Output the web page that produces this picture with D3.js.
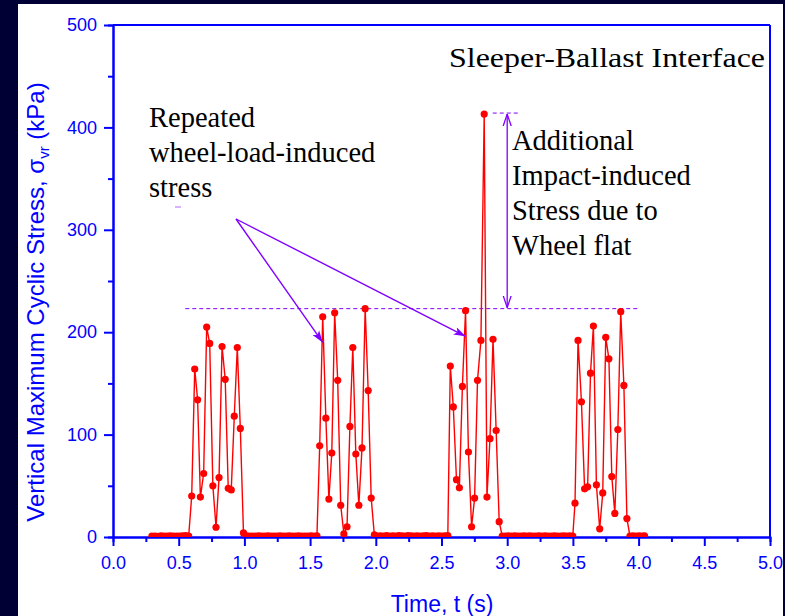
<!DOCTYPE html>
<html>
<head>
<meta charset="utf-8">
<script src="https://cdn.jsdelivr.net/npm/d3@7"></script>
<style>
  html, body { margin: 0; padding: 0; background: #000035; }
  svg { display: block; }
</style>
</head>
<body>
<svg id="chart" width="785" height="616"></svg>
<script>
// Measured vertical maximum cyclic stress at the sleeper-ballast interface
const time = [
  0.296, 0.320, 0.343, 0.366, 0.389, 0.413, 0.436, 0.459, 0.483, 0.506, 0.529, 0.553, 0.576,
  0.599, 0.622, 0.644, 0.665, 0.690, 0.713, 0.736, 0.760, 0.784, 0.807, 0.830, 0.854, 0.877, 0.900, 0.923, 0.946, 0.969, 0.993,
  1.016, 1.039, 1.063, 1.086, 1.109, 1.133, 1.156, 1.179, 1.203, 1.226, 1.249, 1.272, 1.296, 1.319, 1.342, 1.366, 1.389, 1.412, 1.436, 1.459, 1.482, 1.506, 1.529, 1.552,
  1.573, 1.596, 1.620, 1.643, 1.665, 1.687, 1.710, 1.733, 1.757, 1.781, 1.803, 1.825, 1.848, 1.871, 1.895, 1.919, 1.942, 1.965, 1.989,
  2.012, 2.035, 2.059, 2.082, 2.105, 2.129, 2.152, 2.175, 2.199, 2.222, 2.245, 2.268, 2.292, 2.315, 2.338, 2.362, 2.385, 2.408, 2.432, 2.455, 2.478, 2.502, 2.525, 2.548,
  2.567, 2.590, 2.614, 2.636, 2.659, 2.683, 2.705, 2.729, 2.752, 2.774, 2.800, 2.825, 2.846, 2.869, 2.892, 2.916, 2.939,
  2.962, 2.986, 3.009, 3.032, 3.056, 3.079, 3.102, 3.126, 3.149, 3.172, 3.196, 3.219, 3.242, 3.266, 3.289, 3.312, 3.336, 3.359, 3.382, 3.406, 3.429, 3.452, 3.476, 3.499,
  3.516, 3.539, 3.565, 3.589, 3.612, 3.634, 3.656, 3.679, 3.704, 3.727, 3.750, 3.774, 3.796, 3.819, 3.842, 3.864, 3.888, 3.911,
  3.934, 3.957, 3.981, 4.004, 4.027, 4.045
];
const stress = [
  0.8, 1.0, 0.7, 1.1, 0.9, 0.8, 1.2, 0.9, 1.0, 0.8, 1.1, 1.3, 1.0,
  40, 164, 134, 39, 62, 205, 189, 50, 9.5, 58, 186, 154, 47.5, 46, 118, 185, 106, 4,
  1.2, 0.9, 1.0, 0.8, 1.1, 0.9, 1.0, 1.2, 0.8, 1.0, 0.9, 1.1, 1.0, 0.8, 1.2, 0.9, 1.0, 1.1, 0.9, 1.0, 0.8, 1.1, 1.0, 1.2,
  89, 215, 116, 37, 82, 219, 153, 31, 3, 10, 108, 185, 81, 31, 87, 223, 143, 38, 2,
  1.0, 1.1, 0.9, 1.3, 1.0, 1.2, 0.9, 1.4, 1.1, 1.0, 1.3, 1.2, 0.9, 1.1, 1.0, 1.2, 1.3, 1.0, 1.1, 0.9, 1.2, 1.0, 1.1, 1.4,
  167, 127, 56, 48, 147, 221, 83, 10, 38, 153, 192, 413, 39, 96, 193, 104, 15,
  0.9, 1.0, 1.2, 0.8, 1.1, 1.0, 0.9, 1.2, 1.0, 1.1, 0.8, 1.0, 1.2, 0.9, 1.1, 1.0, 0.9, 1.2, 1.0, 0.8, 1.1, 1.0, 1.2, 0.9,
  33, 192, 132, 47, 49, 160, 206, 51, 8, 43, 195, 174, 59, 23, 105, 220, 148, 18,
  1.0, 1.2, 0.9, 1.1, 1.0, 1.2
];

const xTicksMajor = [0, 0.5, 1.0, 1.5, 2.0, 2.5, 3.0, 3.5, 4.0, 4.5, 5.0];
const xTicksMinor = [0.25, 0.75, 1.25, 1.75, 2.25, 2.75, 3.25, 3.75, 4.25, 4.75];
const yTicksMajor = [0, 100, 200, 300, 400, 500];
const yTicksMinor = [50, 150, 250, 350, 450];

// Annotation levels (kPa) and times (s)
const wheelLoadLevel = 223;
const impactLevel = 414;
const wheelLoadSpan = [0.55, 4.0];
const impactSpan = [2.89, 3.09];
const impactArrowTime = 3.0;

const repeatedLines = ["Repeated", "wheel-load-induced", "stress"];
const impactLines = ["Additional", "Impact-induced", "Stress due to", "Wheel flat"];

const axisColor = "#0000ff";
const noteColor = "#8000ff";
const dataColor = "#ff0000";

const svg = d3.select("#chart");
const W = 785, H = 616;
const plotL = 113, plotR = 770, plotT = 25, plotB = 537;

const x = d3.scaleLinear().domain([0, 5]).range([plotL, plotR]);
const y = d3.scaleLinear().domain([0, 500]).range([plotB, plotT]);

// white panel
svg.append("rect").attr("x", 18).attr("y", 4).attr("width", W - 18 - 2).attr("height", H - 4).attr("fill", "#ffffff");

const defs = svg.append("defs");
defs.append("clipPath").attr("id", "plotClip")
  .append("rect").attr("x", plotL).attr("y", plotT - 10).attr("width", plotR - plotL).attr("height", plotB - plotT + 10);

defs.append("marker").attr("id", "headFill")
  .attr("viewBox", "0 0 12 10").attr("refX", 12).attr("refY", 5)
  .attr("markerWidth", 12).attr("markerHeight", 10).attr("markerUnits", "userSpaceOnUse")
  .attr("orient", "auto")
  .append("path").attr("d", "M0,1 L12,5 L0,9 L3,5 Z").attr("fill", noteColor);

defs.append("marker").attr("id", "headOpen")
  .attr("viewBox", "0 0 12 10").attr("refX", 12).attr("refY", 5)
  .attr("markerWidth", 12).attr("markerHeight", 10).attr("markerUnits", "userSpaceOnUse")
  .attr("orient", "auto-start-reverse")
  .append("path").attr("d", "M0,1 L12,5 L0,9").attr("fill", "none").attr("stroke", noteColor).attr("stroke-width", 1.3);

// frame lines (top and right)
svg.append("line").attr("x1", plotL).attr("x2", plotR).attr("y1", plotT).attr("y2", plotT)
  .attr("stroke", axisColor).attr("stroke-width", 2);
svg.append("line").attr("x1", plotR).attr("x2", plotR).attr("y1", plotT).attr("y2", plotB)
  .attr("stroke", axisColor).attr("stroke-width", 2);

// axes
function styleAxis(g) {
  g.selectAll("path.domain").attr("stroke", axisColor).attr("stroke-width", 2);
  g.selectAll(".tick line").attr("stroke", axisColor).attr("stroke-width", 2);
  g.selectAll(".tick text").attr("fill", axisColor)
    .attr("font-family", "Liberation Sans, Arial, sans-serif").attr("font-size", 18);
}

const xAxisMinor = svg.append("g").attr("transform", `translate(0,${plotB})`)
  .call(d3.axisBottom(x).tickValues(xTicksMinor).tickSize(5).tickFormat(""));
styleAxis(xAxisMinor);
const xAxis = svg.append("g").attr("transform", `translate(0,${plotB})`)
  .call(d3.axisBottom(x).tickValues(xTicksMajor).tickSize(9).tickSizeOuter(0).tickPadding(10).tickFormat(d3.format(".1f")));
styleAxis(xAxis);

const yAxisMinor = svg.append("g").attr("transform", `translate(${plotL},0)`)
  .call(d3.axisLeft(y).tickValues(yTicksMinor).tickSize(5).tickFormat(""));
styleAxis(yAxisMinor);
const yAxis = svg.append("g").attr("transform", `translate(${plotL},0)`)
  .call(d3.axisLeft(y).tickValues(yTicksMajor).tickSize(9).tickSizeOuter(0).tickPadding(7).tickFormat(d3.format("d")));
styleAxis(yAxis);

// axis titles
svg.append("text").attr("x", 442).attr("y", 612).attr("text-anchor", "middle")
  .attr("fill", axisColor).attr("font-family", "Liberation Sans, Arial, sans-serif").attr("font-size", 23)
  .text("Time, t (s)");

const yTitle = svg.append("text").attr("transform", "translate(44,302) rotate(-90)")
  .attr("text-anchor", "middle").attr("fill", axisColor)
  .attr("font-family", "Liberation Sans, Arial, sans-serif").attr("font-size", 24);
yTitle.append("tspan").text("Vertical Maximum Cyclic Stress, \u03c3");
yTitle.append("tspan").attr("font-size", 15).attr("dy", 5).text("vr");
yTitle.append("tspan").attr("dy", -5).text(" (kPa)");

// reference levels
svg.append("line")
  .attr("x1", x(wheelLoadSpan[0])).attr("x2", x(wheelLoadSpan[1]))
  .attr("y1", y(wheelLoadLevel)).attr("y2", y(wheelLoadLevel))
  .attr("stroke", noteColor).attr("stroke-width", 1).attr("stroke-dasharray", "4,3");
svg.append("line")
  .attr("x1", x(impactSpan[0])).attr("x2", x(impactSpan[1]))
  .attr("y1", y(impactLevel)).attr("y2", y(impactLevel))
  .attr("stroke", noteColor).attr("stroke-width", 1).attr("stroke-dasharray", "4,3");

// data
const pts = time.map((t, i) => ({ t, v: stress[i] }));
const plot = svg.append("g").attr("clip-path", "url(#plotClip)");
plot.append("path").datum(pts)
  .attr("fill", "none").attr("stroke", dataColor).attr("stroke-width", 1.4)
  .attr("d", d3.line().x(d => x(d.t)).y(d => y(d.v)));
plot.selectAll("circle").data(pts).join("circle")
  .attr("cx", d => x(d.t)).attr("cy", d => y(d.v)).attr("r", 3.6).attr("fill", dataColor);

// impact arrow
svg.append("line")
  .attr("x1", x(impactArrowTime)).attr("x2", x(impactArrowTime))
  .attr("y1", y(impactLevel) + 1).attr("y2", y(wheelLoadLevel) - 1)
  .attr("stroke", noteColor).attr("stroke-width", 1.3)
  .attr("marker-start", "url(#headOpen)").attr("marker-end", "url(#headOpen)");

// arrows pointing at the repeated peaks
const arrowOrigin = [236, 219];
const arrowTargets = [[1.596, 190], [2.683, 196]];
arrowTargets.forEach(([t, v]) => {
  svg.append("line")
    .attr("x1", arrowOrigin[0]).attr("y1", arrowOrigin[1])
    .attr("x2", x(t)).attr("y2", y(v))
    .attr("stroke", noteColor).attr("stroke-width", 1.4)
    .attr("marker-end", "url(#headFill)");
});
svg.append("line").attr("x1", 175).attr("x2", 181).attr("y1", 207).attr("y2", 207)
  .attr("stroke", noteColor).attr("stroke-width", 1).attr("opacity", 0.6);

// text notes
const serif = "Liberation Serif, Times New Roman, serif";
svg.append("text").attr("x", 449).attr("y", 67).attr("font-family", serif).attr("font-size", 28)
  .attr("textLength", 316).attr("lengthAdjust", "spacingAndGlyphs")
  .attr("fill", "#000").text("Sleeper-Ballast Interface");

svg.append("text").attr("font-family", serif).attr("font-size", 28.5).attr("fill", "#000")
  .selectAll("tspan").data(repeatedLines).join("tspan")
  .attr("x", 149).attr("y", (d, i) => 127 + i * 35).text(d => d);

svg.append("text").attr("font-family", serif).attr("font-size", 28.5).attr("fill", "#000")
  .selectAll("tspan").data(impactLines).join("tspan")
  .attr("x", 512).attr("y", (d, i) => 150 + i * 35).text(d => d);
</script>
</body>
</html>
